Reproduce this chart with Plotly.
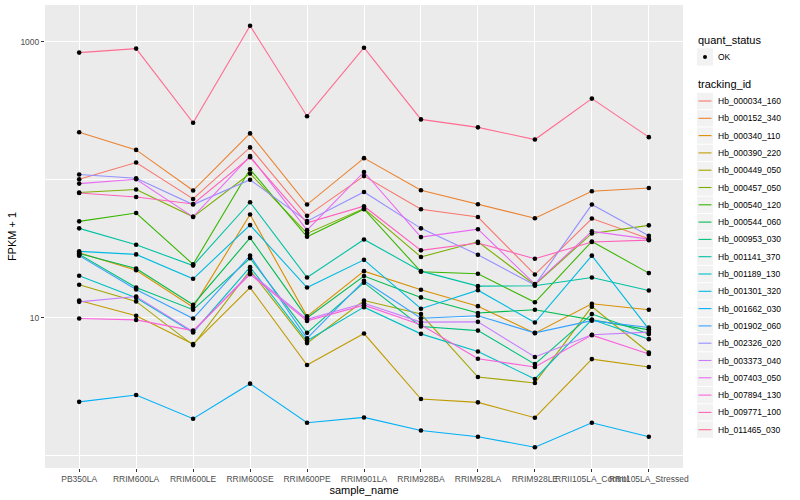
import plotly.graph_objects as go

samples = ["PB350LA", "RRIM600LA", "RRIM600LE", "RRIM600SE", "RRIM600PE", "RRIM901LA",
           "RRIM928BA", "RRIM928LA", "RRIM928LE", "RRII105LA_Control", "RRII105LA_Stressed"]

tracking_ids = ["Hb_000034_160", "Hb_000152_340", "Hb_000340_110", "Hb_000390_220",
                "Hb_000449_050", "Hb_000457_050", "Hb_000540_120", "Hb_000544_060",
                "Hb_000953_030", "Hb_001141_370", "Hb_001189_130", "Hb_001301_320",
                "Hb_001662_030", "Hb_001902_060", "Hb_002326_020", "Hb_003373_040",
                "Hb_007403_050", "Hb_007894_130", "Hb_009771_100", "Hb_011465_030"]

# FPKM + 1 values, one list per tracking_id, in sample order
hb_000034_160 = [100.5, 133, 72.4, 171, 54.6, 106, 61, 53.5, 20.5, 52.2, 37.3]
hb_000152_340 = [220, 164, 83.3, 216, 65.9, 143, 83.7, 66.3, 52.5, 82.3, 86.9]
hb_000340_110 = [29.5, 22, 11.9, 55.8, 10.2, 21.7, 15.9, 12.1, 7.71, 12.6, 11.4]
hb_000390_220 = [13.3, 10.3, 6.43, 16.5, 4.53, 7.66, 2.57, 2.43, 1.88, 5.0, 4.38]
hb_000449_050 = [17.3, 13.1, 6.32, 22, 6.53, 13.3, 10.6, 3.71, 3.36, 12, 5.58]
hb_000457_050 = [80.5, 84.7, 53.7, 110.5, 40.7, 61.7, 27.5, 35.4, 17.3, 40.7, 46.6]
hb_000540_120 = [49.8, 57.2, 24.3, 118.7, 38.5, 61, 21.5, 20.8, 12.9, 35.6, 21]
hb_000544_060 = [29.1, 22.7, 12.4, 37.8, 9.95, 20, 14, 10.8, 11.4, 9.6, 8.15]
hb_000953_030 = [28.7, 16.5, 11.4, 26.9, 7.75, 17.9, 8.61, 8.05, 4.6, 10.6, 7.59]
hb_001141_370 = [44.3, 33.7, 23.8, 68.5, 19.5, 36.8, 21.7, 16.9, 17, 19.5, 15.7]
hb_001189_130 = [20.1, 13.9, 7.8, 23.2, 6.79, 11.9, 7.62, 5.68, 3.59, 9.68, 6.98]
hb_001301_320 = [30.2, 28.7, 19.1, 46.8, 16.5, 26.2, 11.6, 15.8, 9.2, 28.1, 8.24]
hb_001662_030 = [2.45, 2.75, 1.85, 3.32, 1.73, 1.89, 1.52, 1.37, 1.15, 1.73, 1.37]
hb_001902_060 = [28.1, 16, 9.84, 28.1, 7.08, 18.5, 9.9, 10.3, 7.75, 9.5, 8.47]
hb_002326_020 = [108.7, 102.2, 65.9, 99.7, 50, 81.3, 44.3, 28.5, 17.2, 65.9, 39.1]
hb_003373_040 = [13, 14.2, 7.89, 21.1, 9.71, 12.7, 9.27, 9.31, 5.18, 7.5, 7.85]
hb_007403_050 = [93.5, 100.5, 53.7, 148, 43, 113.5, 38.3, 43.7, 17.5, 42.1, 37]
hb_007894_130 = [9.84, 9.62, 8.05, 20.6, 9.46, 12.3, 8.86, 5.03, 4.38, 7.46, 5.44]
hb_009771_100 = [80, 74.8, 66.5, 145, 48.6, 64.1, 30.7, 34.7, 26.7, 35.3, 36.4]
hb_011465_030 = [832, 889, 258, 1303, 288, 903, 273, 239, 195, 386, 203]

quant_status = "OK"

series = [hb_000034_160, hb_000152_340, hb_000340_110, hb_000390_220, hb_000449_050,
          hb_000457_050, hb_000540_120, hb_000544_060, hb_000953_030, hb_001141_370,
          hb_001189_130, hb_001301_320, hb_001662_030, hb_001902_060, hb_002326_020,
          hb_003373_040, hb_007403_050, hb_007894_130, hb_009771_100, hb_011465_030]

colors = ["#F8766D", "#EA8331", "#D89000", "#C09B00", "#A3A500", "#7CAE00", "#39B600",
          "#00BB4E", "#00BF7D", "#00C1A3", "#00BFC4", "#00BAE0", "#00B0F6", "#35A2FF",
          "#9590FF", "#C77CFF", "#E76BF3", "#FA62DB", "#FF62BC", "#FF6C91"]

FONT = "Liberation Sans, Arial, sans-serif"

# plot area in pixels (layout)
W, H = 800, 500
L, R, T, B = 45, 683, 5, 468


def px_x(px):
    return (px - L) / (R - L)


def px_y(py):
    return (B - py) / (B - T)


fig = go.Figure()

for tid, vals, col in zip(tracking_ids, series, colors):
    fig.add_trace(go.Scatter(
        x=samples, y=vals, mode="lines", name=tid,
        line=dict(color=col, width=1.1), showlegend=False,
    ))

# points on top of all lines
all_x = []
all_y = []
for vals in series:
    all_x.extend(samples)
    all_y.extend(vals)
fig.add_trace(go.Scatter(
    x=all_x, y=all_y, mode="markers", name=quant_status, showlegend=False,
    marker=dict(color="black", size=4.6),
))

# ---- manual ggplot-style legend ----
shapes = []
annotations = []
key_l, key_r = 697, 713
key_h = 17.3

annotations.append(dict(x=px_x(696), y=px_y(40), xref="paper", yref="paper",
                        text="quant_status", showarrow=False, xanchor="left", yanchor="middle",
                        font=dict(size=11, color="black", family=FONT)))
ok_y = 57
shapes.append(dict(type="rect", xref="paper", yref="paper",
                   x0=px_x(key_l), x1=px_x(key_r), y0=px_y(ok_y - key_h / 2), y1=px_y(ok_y + key_h / 2),
                   fillcolor="#F2F2F2", line=dict(width=0)))
shapes.append(dict(type="circle", xref="paper", yref="paper",
                   x0=px_x(703), x1=px_x(707), y0=px_y(ok_y - 2), y1=px_y(ok_y + 2),
                   fillcolor="black", line=dict(width=0)))
annotations.append(dict(x=px_x(716), y=px_y(ok_y), xref="paper", yref="paper",
                        text=quant_status, showarrow=False, xanchor="left", yanchor="middle",
                        font=dict(size=8.5, color="black", family=FONT)))

annotations.append(dict(x=px_x(696), y=px_y(84), xref="paper", yref="paper",
                        text="tracking_id", showarrow=False, xanchor="left", yanchor="middle",
                        font=dict(size=11, color="black", family=FONT)))
for i, (tid, col) in enumerate(zip(tracking_ids, colors)):
    cy = 101 + key_h * i
    shapes.append(dict(type="rect", xref="paper", yref="paper",
                       x0=px_x(key_l), x1=px_x(key_r),
                       y0=px_y(cy - key_h / 2 + 0.5), y1=px_y(cy + key_h / 2 - 0.5),
                       fillcolor="#F2F2F2", line=dict(width=0)))
    shapes.append(dict(type="line", xref="paper", yref="paper",
                       x0=px_x(698.5), x1=px_x(711.5), y0=px_y(cy), y1=px_y(cy),
                       line=dict(color=col, width=1.1)))
    annotations.append(dict(x=px_x(716), y=px_y(cy), xref="paper", yref="paper",
                            text=tid, showarrow=False, xanchor="left", yanchor="middle",
                            font=dict(size=8.5, color="black", family=FONT)))

fig.update_layout(
    width=W, height=H,
    margin=dict(l=L, r=W - R, t=T, b=H - B, autoexpand=False),
    paper_bgcolor="white",
    plot_bgcolor="#EBEBEB",
    font=dict(family=FONT, size=9, color="#4D4D4D"),
    showlegend=False,
    shapes=shapes,
    annotations=annotations,
)

fig.update_xaxes(
    type="category", categoryorder="array", categoryarray=samples,
    range=[-0.6, 10.6],
    showgrid=True, gridcolor="white", gridwidth=1.1,
    zeroline=False,
    ticks="outside", ticklen=3, tickcolor="#333333", tickwidth=1,
    tickangle=0,
    tickfont=dict(size=8.5, color="#4D4D4D", family=FONT),
    title=dict(text="sample_name", font=dict(size=11, color="black", family=FONT), standoff=2),
    automargin=False,
)

fig.update_yaxes(
    type="log",
    range=[-0.09, 3.265],
    tickvals=[10, 1000], ticktext=["10", "1000"],
    showgrid=True, gridcolor="white", gridwidth=1.1,
    minor=dict(tickvals=[1, 100], showgrid=True, gridcolor="white", gridwidth=0.55, ticks=""),
    zeroline=False,
    ticks="outside", ticklen=3, tickcolor="#333333", tickwidth=1,
    tickfont=dict(size=8.5, color="#4D4D4D", family=FONT),
    title=dict(text="FPKM + 1", font=dict(size=11, color="black", family=FONT), standoff=1),
    automargin=False,
)

fig.write_html("out.html",
               config={"displayModeBar": False},
               post_script="document.body.style.margin='0';document.body.style.padding='0';")
